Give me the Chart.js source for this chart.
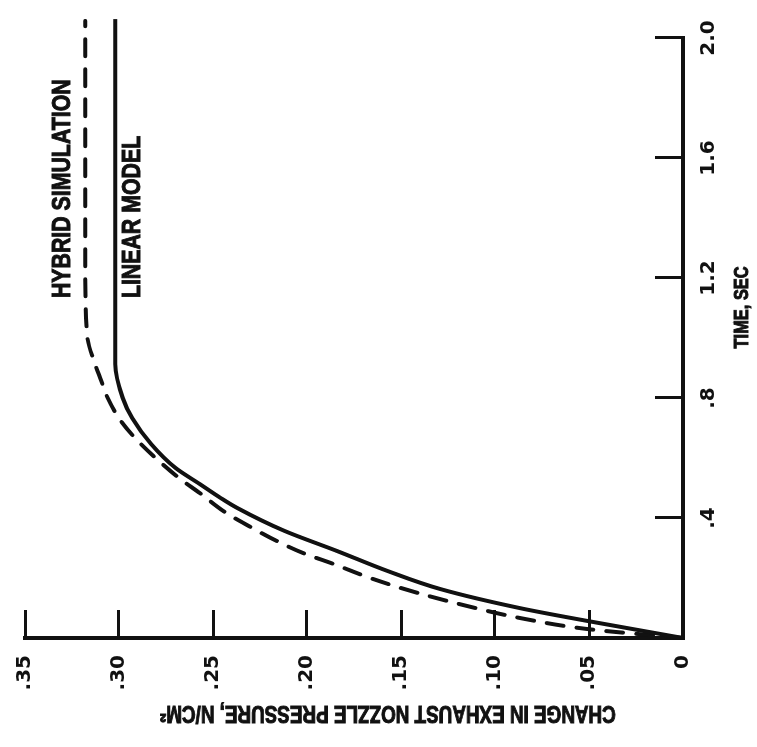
<!DOCTYPE html>
<html>
<head>
<meta charset="utf-8">
<script src="https://cdn.jsdelivr.net/npm/chart.js@4.4.1/dist/chart.umd.min.js"></script>
<style>
  html, body { margin: 0; padding: 0; background: #fff; overflow: hidden; }
  /* the original plot is printed turned a quarter turn anticlockwise */
  #wrap {
    position: absolute; left: 0; top: 0;
    width: 747px; height: 757px;
    transform-origin: 0 0;
    transform: translate(0px, 747px) rotate(-90deg);
  }
</style>
</head>
<body>
<div id="wrap"><canvas id="chart" width="747" height="757"></canvas></div>
<script>
// ---------------- DATA ----------------
const linearTime     = [0, 0.057, 0.10, 0.163, 0.223, 0.29, 0.357, 0.433, 0.467, 0.513, 0.567, 0.647, 0.733, 0.80, 0.913, 1.023, 1.3, 1.7, 2.063];
const linearPressure = [0, 0.051, 0.087, 0.129, 0.157, 0.184, 0.212, 0.237, 0.246, 0.257, 0.270, 0.283, 0.293, 0.298, 0.302, 0.302, 0.302, 0.302, 0.302];

const hybridTime     = [0, 0.03, 0.067, 0.107, 0.15, 0.197, 0.247, 0.283, 0.323, 0.37, 0.417, 0.483, 0.533, 0.597, 0.657, 0.723, 0.80, 0.867, 0.90, 1.013, 1.3, 1.7, 2.057];
const hybridPressure = [0, 0.051, 0.087, 0.115, 0.141, 0.165, 0.186, 0.202, 0.216, 0.230, 0.243, 0.257, 0.268, 0.280, 0.290, 0.299, 0.306, 0.310, 0.312, 0.317, 0.318, 0.318, 0.318];

const timeTicks          = [0, 0.4, 0.8, 1.2, 1.6, 2.0];
const timeTickLabels     = ['', '.4', '.8', '1.2', '1.6', '2.0'];
const pressureTicks      = [0, 0.05, 0.10, 0.15, 0.20, 0.25, 0.30, 0.35];
const pressureTickLabels = ['0', '.05', '.10', '.15', '.20', '.25', '.30', '.35'];

const seriesNames = ['LINEAR MODEL', 'HYBRID SIMULATION'];
const timeTitle = 'TIME, SEC';
const pressureTitle = 'CHANGE IN EXHAUST NOZZLE PRESSURE, N/CM\u00B2';

const toPoints = (xs, ys) => xs.map((x, i) => ({ x: x, y: ys[i] }));

// ---------------- TEXT (titles + curve labels) ----------------
function narrowText(ctx, txt, x, y, size, squeeze, angle, align) {
    ctx.save();
    ctx.translate(x, y);
    ctx.rotate(angle);
    ctx.scale(squeeze, 1);
    ctx.font = 'bold ' + size + 'px "Liberation Sans", Arial, sans-serif';
    ctx.fillStyle = '#111';
    ctx.strokeStyle = '#111';
    ctx.lineWidth = 1;
    ctx.textAlign = align;
    ctx.textBaseline = 'middle';
    ctx.fillText(txt, 0, 0);
    ctx.strokeText(txt, 0, 0);
    ctx.restore();
}

const textPlugin = {
    id: 'textPlugin',
    afterDraw(chart) {
        const ctx = chart.ctx;
        const xs = chart.scales.x, ys = chart.scales.y;
        narrowText(ctx, timeTitle, xs.getPixelForValue(1.102), 742, 20, 0.82, 0, 'center');
        narrowText(ctx, pressureTitle, 35, ys.getPixelForValue(0.157), 23, 0.82, -Math.PI / 2, 'center');
        narrowText(ctx, seriesNames[1], xs.getPixelForValue(1.133), ys.getPixelForValue(0.330), 26, 0.82, 0, 'left');
        narrowText(ctx, seriesNames[0], xs.getPixelForValue(1.133), ys.getPixelForValue(0.2926), 26, 0.82, 0, 'left');
    }
};

// ---------------- CHART ----------------
const ctx = document.getElementById('chart').getContext('2d');
const chart = new Chart(ctx, {
    type: 'line',
    data: {
        datasets: [{
            label: seriesNames[0],
            data: toPoints(linearTime, linearPressure),
            borderColor: '#111',
            borderWidth: 4,
            cubicInterpolationMode: 'monotone',
            pointRadius: 0,
            clip: false
        }, {
            label: seriesNames[1],
            data: toPoints(hybridTime, hybridPressure),
            borderColor: '#111',
            borderWidth: 4,
            borderDash: [17, 13],
            borderCapStyle: 'round',
            cubicInterpolationMode: 'monotone',
            pointRadius: 0,
            clip: false
        }]
    },
    options: {
        responsive: false,
        animation: false,
        events: [],
        layout: { padding: 0 },
        plugins: { legend: { display: false }, tooltip: { enabled: false } },
        scales: {
            x: {
                type: 'linear',
                min: 0, max: 2.0,
                afterFit: s => { s.height = 74; s.paddingLeft = 0; s.paddingRight = 38; },
                afterBuildTicks: s => { s.ticks = timeTicks.map(v => ({ value: v })); },
                border: { display: true, color: '#111', width: 4 },
                grid: { drawOnChartArea: false, drawTicks: true, tickLength: -28, tickWidth: 3, tickColor: '#111' },
                ticks: {
                    padding: 42,
                    color: '#111',
                    font: { family: '"DejaVu Sans"', weight: 'bold', size: 20 },
                    maxRotation: 0, minRotation: 0,
                    callback: (v, i) => timeTickLabels[i]
                }
            },
            y: {
                type: 'linear',
                min: 0, max: 0.35,
                afterFit: s => { s.width = 109; s.paddingTop = 25; s.paddingBottom = 0; },
                afterBuildTicks: s => { s.ticks = pressureTicks.map(v => ({ value: v })); },
                border: { display: true, color: '#111', width: 4 },
                grid: { drawOnChartArea: false, drawTicks: true, tickLength: -28, tickWidth: 3, tickColor: '#111' },
                ticks: {
                    padding: 45,
                    color: '#111',
                    font: { family: '"DejaVu Sans"', weight: 'bold', size: 20 },
                    callback: (v, i) => pressureTickLabels[i]
                }
            }
        }
    },
    plugins: [textPlugin]
});
</script>
</body>
</html>
